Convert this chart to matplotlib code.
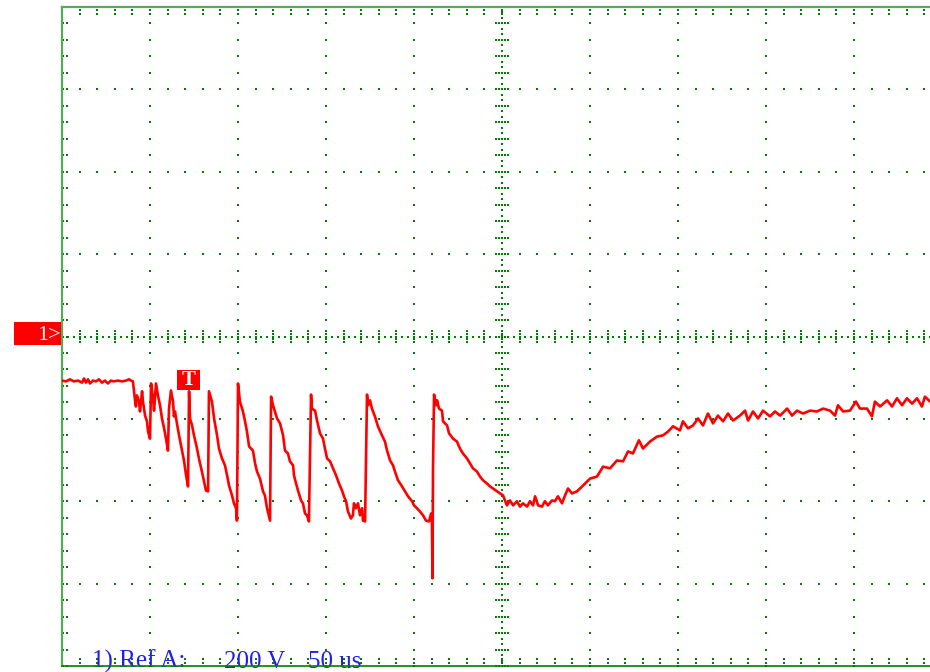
import matplotlib
matplotlib.use('Agg')
from matplotlib import pyplot as plt
from matplotlib.patches import Rectangle
from matplotlib.transforms import blended_transform_factory
import numpy as np

# scope settings
volts_per_div = 200
us_per_div = 50
n_xdiv = 10
n_ydiv = 8
trigger_us = 71.9

# reference trace A (time in us from left edge, volts)
time_us = [0, 2.3, 4.5, 6.8, 9.1, 11.4, 12.5, 13.6, 14.8, 15.9, 17.6, 19.3, 21.0, 22.7,
           24.4, 26.1, 27.8, 29.5, 31.8, 34.1, 36.4, 38.1, 39.2,
           40.3, 41.5, 42.0, 42.6, 43.8, 44.3, 45.5, 46.0, 47.2, 48.3, 48.9, 50.0,
           50.6, 51.7, 52.3, 53.4, 54.5, 55.7, 56.8, 58.0, 59.1, 60.2, 60.8, 61.9,
           63.1, 63.6, 64.2, 65.3, 66.5, 68.2, 69.3, 70.5, 71.6, 72.2,
           72.7, 73.9, 75.0, 76.7, 77.8, 79.5, 80.7, 81.8, 83.0, 83.5,
           85.2, 86.4, 88.1, 89.2, 90.9, 92.6, 93.8, 94.9, 96.6, 97.7, 98.9, 99.4, 100.0,
           101.1, 102.8, 104.0, 105.1, 106.3, 108.5, 109.7, 110.8, 112.5, 114.2, 115.3,
           116.5, 118.2, 118.8,
           119.9, 122.2, 123.9, 125.6, 126.7, 128.4, 129.5, 131.3, 131.8, 133.0, 134.1,
           135.8, 136.9, 138.1, 139.2, 140.3, 141.5,
           142.0, 143.8, 144.9, 146.6, 148.3, 149.4, 150.6, 152.3, 154.0, 155.7, 157.4,
           159.1, 160.2, 161.4, 162.5, 164.2, 165.3, 165.9, 167.0, 168.2, 169.3, 170.5,
           171.0, 172.2, 173.3,
           173.9, 175.0, 176.1, 177.8, 179.5, 181.8, 183.5, 184.7, 186.4, 188.1, 189.2,
           190.9, 193.2, 194.9, 196.6, 198.9, 200.0, 201.7, 203.4, 205.1, 206.8, 208.5,
           209.7, 210.2, 210.5, 210.8, 211.4,
           212.5, 213.1, 214.2, 215.9, 216.5, 218.8, 219.9, 222.2, 224.4, 226.1, 227.8,
           230.1, 231.8, 233.5, 235.8, 237.5, 239.2, 241.5, 243.2, 244.9, 247.2, 248.9,
           250.6, 252.8, 254.5, 256.3, 258.5, 260.2, 261.9, 264.2, 265.9, 267.6, 268.8,
           270.5, 272.7, 274.4, 276.1, 278.4, 280.1, 281.8, 284.1, 285.8, 287.5, 289.8,
           292.6,
           296.0, 300.0, 304.0, 307.4, 311.4, 315.3, 318.8, 321.6, 324.4, 327.8, 330.1,
           334.1, 338.1, 341.5, 344.3, 347.2, 351.1, 352.8, 355.7, 358.5, 361.4, 364.2,
           367.0, 369.9, 372.7, 375.6, 378.4, 381.3, 385.2, 388.1, 389.8, 392.6, 395.5,
           398.3, 402.3, 405.1, 408.0, 412.0, 414.8, 417.6, 421.0, 425.0, 429.0, 432.4,
           436.4, 439.2, 440.9, 443.8, 447.7, 451.1, 453.4, 457.4, 460.2, 461.9, 464.8,
           468.8, 471.6, 474.4, 477.3, 480.1, 483.0, 485.8, 488.6, 490.3, 493.2, 498.9]
volts = [-107, -109, -104, -109, -107, -112, -102, -112, -104, -114, -107, -109, -104, -112,
         -107, -114, -107, -109, -107, -109, -107, -104, -107,
         -109, -155, -170, -143, -158, -182, -133, -158, -192, -206, -231, -248,
         -114, -150, -180, -114, -143, -167, -199, -223, -248, -277, -175, -131,
         -158, -194, -182, -211, -240, -277, -301, -337, -364, -133,
         -199, -216, -240, -272, -296, -328, -352, -374, -376, -133,
         -158, -199, -240, -272, -296, -313, -337, -362, -386, -405, -417, -447, -114,
         -158, -182, -206, -231, -267, -277, -308, -328, -345, -376, -386,
         -417, -447, -146,
         -167, -199, -211, -240, -277, -284, -303, -313, -337, -357, -374,
         -398, -405, -430, -434, -449, -141,
         -175, -180, -204, -235, -248, -272, -296, -303, -320, -337, -357,
         -374, -388, -400, -425, -442, -434, -405, -417, -405, -434, -417,
         -447, -449, -141,
         -167, -155, -175, -194, -218, -240, -255, -277, -301, -313, -328,
         -349, -364, -376, -388, -400, -410, -417, -425, -434, -447, -449,
         -430, -454, -587, -320, -141,
         -167, -155, -175, -180, -206, -216, -235, -248, -255, -272, -284,
         -296, -308, -320, -328, -340, -349, -357, -364, -369, -376, -381,
         -386, -410, -398, -410, -400, -413, -405, -413, -400, -410, -388,
         -410, -413, -400, -410, -398, -400, -388, -405, -386, -369, -381,
         -376,
         -362, -345, -340, -316, -320, -301, -303, -279, -284, -252, -272,
         -255, -243, -240, -231, -218, -228, -206, -223, -216, -199, -216,
         -187, -211, -192, -206, -187, -204, -192, -180, -204, -182, -199,
         -180, -194, -182, -192, -175, -192, -180, -187, -180, -182, -175,
         -180, -192, -167, -182, -180, -158, -175, -175, -194, -158, -170,
         -155, -170, -150, -167, -150, -163, -150, -170, -146, -158, -155]

label_channel = '1>'
label_trigger = 'T'
label_info = ['1) Ref A:', '200 V', '50 us']

xmax = n_xdiv * us_per_div
ymax = n_ydiv / 2 * volts_per_div
grid_green = '#008000'
border_green = '#5aa85a'
serif = ['Liberation Serif', 'DejaVu Serif']

fig = plt.figure(figsize=(9.3, 6.72), dpi=100)
# screen runs a little past the right edge of the picture
ax = fig.add_axes([62 / 930, 6 / 672, 880 / 930, 659 / 672])
ax.set_xlim(0, xmax)
ax.set_ylim(-ymax, ymax)
ax.set_xticks([])
ax.set_yticks([])
for side in ['left', 'top', 'bottom']:
    ax.spines[side].set_color(border_green)
    ax.spines[side].set_linewidth(1.6)
ax.spines['bottom'].set_color(grid_green)
ax.spines['bottom'].set_linewidth(1.2)
ax.spines['right'].set_visible(False)

# dotted graticule
gx, gy = [], []
sub_x = us_per_div / 5
sub_y = volts_per_div / 5
for k in range(1, n_xdiv):
    if k == n_xdiv // 2:
        continue
    yy = np.arange(-ymax, ymax + 1, sub_y)
    gx += [k * us_per_div] * len(yy)
    gy += list(yy)
for j in range(-n_ydiv // 2 + 1, n_ydiv // 2):
    if j == 0:
        continue
    xx = np.arange(0, xmax + 1, sub_x)
    gx += list(xx)
    gy += [j * volts_per_div] * len(xx)

# centre cross with finer dots and tick marks
xc = xmax / 2
yy = np.arange(-ymax, ymax + 1, sub_y / 3)
gx += [xc] * len(yy)
gy += list(yy)
xx = np.arange(0, xmax + 1, sub_x / 3)
gx += list(xx)
gy += [0] * len(xx)
for yv in np.arange(-ymax, ymax + 1, sub_y):
    for d in [-3.2, -1.6, 1.6, 3.2]:
        gx.append(xc + d)
        gy.append(yv)
for xv in np.arange(0, xmax + 1, sub_x):
    for d in [-14, -7, 7, 14]:
        gx.append(xv)
        gy.append(d)

# border ticks
for yv in np.arange(-ymax, ymax + 1, sub_y):
    for d in [0.8, 3.0]:
        gx.append(d)
        gy.append(yv)
for xv in np.arange(0, xmax + 1, sub_x):
    for d in [7, 17]:
        gx += [xv, xv]
        gy += [ymax - d, -ymax + d]

ax.scatter(gx, gy, s=1.0, marker='s', color=grid_green, linewidths=0, zorder=1)

# trace
ax.plot(time_us, volts, color='#ff0000', lw=1.9, zorder=3)

# channel 1 ground marker
tr = blended_transform_factory(ax.transAxes, ax.transData)
ax.add_patch(Rectangle((-48 / 880, -20), 47 / 880, 56, transform=tr,
                       facecolor='#ff0000', edgecolor='none', clip_on=False, zorder=4))
ax.text(-0.001, 2, label_channel, transform=tr, ha='right', va='center',
        color='white', fontsize=16, family=serif, clip_on=False, zorder=5)

# trigger marker
ax.add_patch(Rectangle((trigger_us - 6.5, -131), 13, 49, facecolor='#ff0000',
                       edgecolor='none', zorder=4))
ax.text(trigger_us, -106, label_trigger, ha='center', va='center', color='white',
        fontsize=15, fontweight='bold', family=serif, zorder=5)

# info line at the bottom
for xpix, txt in zip([92, 224, 308], label_info):
    ax.text(xpix / 930, 4 / 672, txt, transform=fig.transFigure, ha='left',
            va='baseline', color='#2020ee', fontsize=18, family=serif,
            clip_on=False, zorder=2)

fig.savefig('out.png', dpi=100)
